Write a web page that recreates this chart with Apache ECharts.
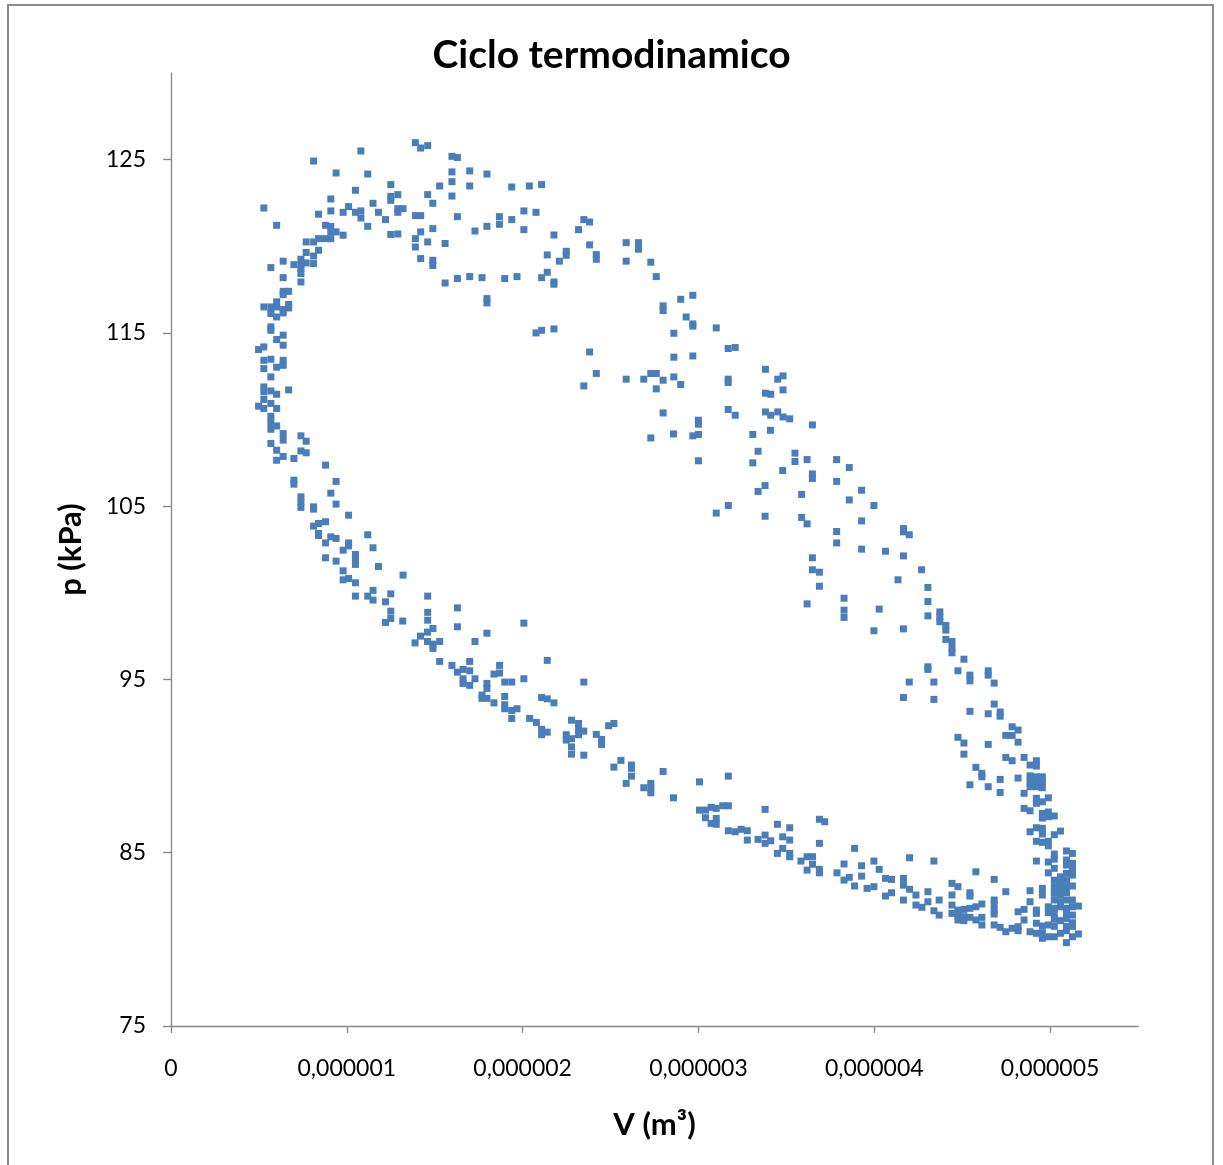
<!DOCTYPE html>
<html>
<head>
<meta charset="utf-8">
<script src="https://cdn.jsdelivr.net/npm/echarts@6/dist/echarts.min.js"></script>
<style>
html,body{margin:0;padding:0;background:#fff;}
#chart{width:1223px;height:1165px;}
</style>
</head>
<body>
<div id="chart"></div>
<script>
// Axis tick values
const xTicks = [0, 1e-6, 2e-6, 3e-6, 4e-6, 5e-6];
const yTicks = [75, 85, 95, 105, 115, 125];

// Measured points [V (m³), p (kPa)], grouped by region of the cycle
const topArc = [
[1.390e-6,125.98],[1.420e-6,125.67],[1.460e-6,125.81],[1.080e-6,125.50],[0.811e-6,124.92],[1.598e-6,125.19],[1.629e-6,125.12],[0.939e-6,124.23],[1.119e-6,124.17],[1.598e-6,124.29],
[1.699e-6,124.35],[1.797e-6,124.17],[1.250e-6,123.56],[1.528e-6,123.48],[1.598e-6,123.73],[1.699e-6,123.48],[1.938e-6,123.42],[2.038e-6,123.48],[1.049e-6,123.23],[1.250e-6,122.88],
[1.290e-6,122.98],[1.460e-6,122.98],[1.598e-6,122.90],[0.909e-6,122.73],[1.250e-6,122.65],[1.149e-6,122.48],[1.489e-6,122.48],[0.528e-6,122.21],[1.010e-6,122.29],[0.909e-6,122.04],
[0.979e-6,121.96],[1.049e-6,121.96],[1.080e-6,122.04],[1.180e-6,121.96],[1.290e-6,122.17],[1.320e-6,122.17],[1.290e-6,121.96],[0.839e-6,121.85],[1.390e-6,121.77],[1.420e-6,121.77],
[1.629e-6,121.71],[2.007e-6,122.04],[2.076e-6,121.96],[1.080e-6,121.63],[1.220e-6,121.54],[1.868e-6,121.71],[1.938e-6,121.54],[1.868e-6,121.27],[0.601e-6,121.21],[0.879e-6,121.21],
[0.909e-6,121.14],[1.119e-6,121.15],[1.797e-6,121.15],[1.489e-6,121.02],[1.729e-6,120.88],[2.007e-6,120.96],[0.939e-6,120.83],[0.909e-6,120.83],[0.979e-6,120.64],[1.250e-6,120.68],
[1.290e-6,120.71],[1.420e-6,120.83],[0.839e-6,120.44],[0.879e-6,120.44],[0.909e-6,120.44],[0.769e-6,120.25],[0.811e-6,120.25],[1.390e-6,120.44],[1.460e-6,120.25],[1.559e-6,120.16],
[1.390e-6,119.96],[0.839e-6,119.77],[0.769e-6,119.64],[0.811e-6,119.44],[1.420e-6,119.29],[1.489e-6,119.19],[1.489e-6,118.89],[0.638e-6,119.14],[0.699e-6,118.94],[0.739e-6,119.25],
[0.739e-6,118.94],[0.769e-6,119.04],[0.811e-6,119.00],[0.568e-6,118.77],[0.739e-6,118.71],[0.739e-6,118.43],[0.638e-6,118.19],[1.559e-6,117.88],[1.629e-6,118.14],[1.699e-6,118.25],
[1.769e-6,118.19],[1.898e-6,118.14],[1.968e-6,118.25],[0.739e-6,117.94],[0.638e-6,117.40],[0.669e-6,117.40],[0.638e-6,117.21],[1.797e-6,116.98],[1.797e-6,116.73],[0.528e-6,116.50],
[0.568e-6,116.50],[0.601e-6,116.79],[0.601e-6,116.50],[0.638e-6,116.35],[0.669e-6,116.64],[0.669e-6,116.44],[0.568e-6,116.12],[0.601e-6,115.92],[0.638e-6,116.15],[0.568e-6,115.35],
[0.568e-6,115.15],[2.076e-6,115.00],[0.638e-6,114.87],[0.601e-6,114.62],[0.638e-6,114.29],[0.498e-6,114.04],[0.528e-6,114.19],[0.528e-6,113.42],[0.568e-6,113.48],[0.638e-6,113.42],
[0.638e-6,113.13],[0.528e-6,112.94],[0.601e-6,113.02],[0.568e-6,112.46],[0.528e-6,111.88],[0.528e-6,111.60],[0.568e-6,111.65],[0.601e-6,111.46],[0.669e-6,111.71],[0.528e-6,111.16],
[0.498e-6,110.77],[0.528e-6,110.64],[0.568e-6,110.93],[0.601e-6,110.64],[0.568e-6,110.19]
];

const expansionUpper = [
[2.108e-6,123.56],[2.348e-6,121.54],[2.381e-6,121.40],[2.318e-6,120.96],[2.178e-6,120.65],[2.381e-6,120.08],[2.589e-6,120.21],[2.659e-6,120.21],[2.659e-6,119.83],[2.140e-6,119.50],
[2.248e-6,119.71],[2.248e-6,119.48],[2.209e-6,119.14],[2.419e-6,119.52],[2.419e-6,119.25],[2.589e-6,119.14],[2.729e-6,119.08],[2.108e-6,118.19],[2.140e-6,118.50],[2.178e-6,117.94],
[2.178e-6,117.81],[2.760e-6,118.25],[2.899e-6,116.94],[2.968e-6,117.17],[2.799e-6,116.56],[2.799e-6,116.29],[2.930e-6,115.92],[2.968e-6,115.52],[2.968e-6,115.39],[3.101e-6,115.29],
[2.108e-6,115.15],[2.178e-6,115.23],[2.860e-6,114.98],[3.169e-6,114.10],[3.209e-6,114.16],[2.381e-6,113.90],[2.860e-6,113.60],[2.968e-6,113.67],[3.381e-6,112.90],[2.419e-6,112.66],
[2.729e-6,112.66],[2.760e-6,112.66],[2.589e-6,112.33],[2.689e-6,112.33],[2.799e-6,112.27],[2.860e-6,112.46],[2.899e-6,112.02],[3.169e-6,112.33],[3.169e-6,112.14],[3.451e-6,112.33],
[3.481e-6,112.52],[2.348e-6,111.94],[2.760e-6,111.77],[3.381e-6,111.52],[3.411e-6,111.46],[3.481e-6,111.71],[2.799e-6,110.38],[3.169e-6,110.58],[3.209e-6,110.25],[3.381e-6,110.44],
[3.411e-6,110.25],[3.451e-6,110.44],[3.481e-6,110.15],[3.519e-6,110.04],[3.000e-6,109.96],[3.000e-6,109.73],[3.648e-6,109.69],[2.858e-6,109.17],[2.968e-6,109.06],[3.000e-6,109.14],
[2.729e-6,108.94],[3.309e-6,109.14],[3.409e-6,109.38],[3.339e-6,108.17],[3.549e-6,108.06],[3.309e-6,107.50],[3.549e-6,107.58],[3.618e-6,107.69],[3.786e-6,107.69],[3.000e-6,107.62],
[3.479e-6,107.06],[3.648e-6,106.86],[3.648e-6,106.60],[3.786e-6,106.43],[3.379e-6,106.19],[3.339e-6,105.85],[3.587e-6,105.68],[3.170e-6,105.04],[3.101e-6,104.60],[3.379e-6,104.42],
[3.587e-6,104.35],[3.618e-6,103.98],[3.786e-6,103.54],[3.786e-6,102.88],[3.648e-6,102.02],[3.648e-6,101.33],[3.688e-6,101.19],[3.688e-6,100.38],[3.618e-6,99.36],[2.007e-6,98.25]
];

const expansionLower = [
[3.858e-6,107.23],[3.928e-6,105.92],[3.858e-6,105.36],[3.998e-6,105.04],[3.928e-6,104.15],[4.166e-6,103.71],[4.166e-6,103.52],[4.199e-6,103.35],[3.928e-6,102.52],[4.064e-6,102.40],
[4.166e-6,102.13],[4.269e-6,101.33],[4.135e-6,100.75],[3.828e-6,99.69],[4.305e-6,100.31],[3.828e-6,99.00],[3.828e-6,98.58],[4.028e-6,99.06],[4.305e-6,99.50],[4.305e-6,98.67],
[4.373e-6,98.90],[4.373e-6,98.61],[4.373e-6,98.33],[3.998e-6,97.81],[4.166e-6,97.92],[4.407e-6,98.12],[4.407e-6,97.85],[4.407e-6,97.31],[4.442e-6,97.19],[4.442e-6,96.79],
[4.442e-6,96.54],[4.510e-6,96.17],[4.305e-6,95.73],[4.305e-6,95.58],[4.476e-6,95.50],[4.544e-6,95.25],[4.544e-6,94.92],[4.648e-6,95.50],[4.648e-6,95.25],[4.682e-6,94.79],
[4.199e-6,94.85],[4.339e-6,94.85],[4.166e-6,93.96],[4.339e-6,93.85]
];

const bottomRight = [
[4.682e-6,93.58],[4.544e-6,93.16],[4.648e-6,93.02],[4.716e-6,93.12],[4.716e-6,92.88],[4.784e-6,92.27],[4.818e-6,92.08],[4.748e-6,91.77],[4.784e-6,91.77],[4.818e-6,91.38],
[4.476e-6,91.66],[4.510e-6,91.33],[4.648e-6,91.25],[4.510e-6,90.69],[4.748e-6,90.50],[4.784e-6,90.31],[4.852e-6,90.50],[4.886e-6,90.06],[4.922e-6,90.31],[4.922e-6,90.00],
[4.578e-6,89.93],[4.612e-6,89.58],[4.612e-6,89.38],[4.716e-6,89.23],[4.818e-6,89.31],[4.886e-6,89.44],[4.922e-6,89.38],[4.956e-6,89.38],[4.886e-6,89.09],[4.922e-6,89.04],
[4.956e-6,89.09],[4.886e-6,88.81],[4.922e-6,88.81],[4.956e-6,88.75],[4.544e-6,88.92],[4.648e-6,88.81],[4.716e-6,88.48],[4.852e-6,88.43],[4.922e-6,88.14],[4.956e-6,87.94],
[4.990e-6,88.17],[4.922e-6,87.85],[4.852e-6,87.56],[4.886e-6,87.42],[4.956e-6,87.27],[4.990e-6,87.35],[5.024e-6,87.12],[4.956e-6,87.00],[4.990e-6,87.08],[4.886e-6,86.21],
[4.922e-6,86.44],[4.956e-6,86.41],[4.956e-6,86.08],[5.024e-6,86.04],[5.059e-6,86.25],[4.922e-6,85.66],[4.956e-6,85.60],[4.990e-6,85.66],[4.990e-6,85.40],[5.024e-6,84.92],
[5.024e-6,84.63],[5.093e-6,85.10],[5.127e-6,84.96],[4.922e-6,84.52],[4.990e-6,84.46],[5.024e-6,84.10],[4.990e-6,83.84],[5.093e-6,84.58],[5.093e-6,84.29],[5.127e-6,84.39],
[5.127e-6,84.04],[5.093e-6,83.81],[5.127e-6,83.71],[5.059e-6,83.61],[5.024e-6,83.42],[5.059e-6,83.33],[5.093e-6,83.42],[5.024e-6,83.04],[5.059e-6,82.94],[5.093e-6,83.04],
[5.127e-6,83.08],[5.024e-6,82.66],[5.059e-6,82.56],[5.093e-6,82.69],[5.024e-6,82.27],[5.059e-6,82.17],[5.093e-6,82.27],[5.127e-6,82.27],[4.990e-6,81.88],[5.024e-6,81.79],
[5.059e-6,81.88],[5.093e-6,81.79],[5.127e-6,81.88],[5.161e-6,81.92],[5.024e-6,81.50],[5.093e-6,81.50],[5.127e-6,81.40],[4.886e-6,82.81],[4.956e-6,82.94],[4.886e-6,82.17],
[4.956e-6,82.56],[4.990e-6,81.54],[4.922e-6,81.69],[4.922e-6,81.50],[4.818e-6,81.59],[4.852e-6,81.73],[4.852e-6,81.12],[4.922e-6,80.93],[4.956e-6,80.77],[4.990e-6,80.83],
[5.024e-6,81.16],[5.059e-6,81.08],[5.093e-6,81.21],[5.127e-6,80.96],[5.024e-6,80.75],[5.093e-6,80.75],[5.127e-6,80.75],[4.956e-6,80.38],[4.990e-6,80.15],[4.956e-6,80.06],
[5.024e-6,80.15],[5.059e-6,80.35],[5.093e-6,80.50],[5.127e-6,80.15],[5.161e-6,80.31],[5.093e-6,79.81],[4.886e-6,80.44],[4.922e-6,80.35],[4.748e-6,82.75],[4.682e-6,83.46],
[4.578e-6,83.90],[4.442e-6,83.23],[4.476e-6,83.04],[4.544e-6,82.69],[4.544e-6,82.50],[4.442e-6,82.56],[4.682e-6,82.27],[4.682e-6,82.04],[4.682e-6,81.69],[4.682e-6,81.46],
[4.612e-6,82.04],[4.578e-6,81.88],[4.544e-6,81.79],[4.510e-6,81.73],[4.476e-6,81.69],[4.442e-6,81.98],[4.442e-6,81.50],[4.476e-6,81.40],[4.510e-6,81.31],[4.544e-6,81.27],
[4.578e-6,81.12],[4.612e-6,81.27],[4.612e-6,80.83],[4.476e-6,81.12],[4.510e-6,81.08],[4.682e-6,80.83],[4.716e-6,80.69],[4.748e-6,80.44],[4.784e-6,80.64],[4.818e-6,80.73],
[4.818e-6,80.50],[4.369e-6,82.27],[4.369e-6,81.40],[4.339e-6,81.65],[4.305e-6,82.17],[4.305e-6,82.75],[4.271e-6,81.85],[4.237e-6,81.98],[4.237e-6,82.56],[4.166e-6,82.27],
[4.201e-6,82.89],[4.166e-6,83.13],[4.166e-6,83.52],[4.201e-6,84.71],[4.339e-6,84.52],[4.098e-6,83.46],[4.064e-6,83.52],[4.098e-6,82.69],[4.064e-6,82.50],[4.028e-6,84.04],
[3.998e-6,84.52],[3.928e-6,84.25],[3.928e-6,83.65],[3.888e-6,83.08],[3.959e-6,82.94],[3.998e-6,83.04],[3.828e-6,84.35],[3.788e-6,83.84],[3.828e-6,83.42],[3.858e-6,83.58],
[3.888e-6,85.25],[3.688e-6,86.93],[3.718e-6,86.79],[3.688e-6,85.54],[3.618e-6,84.77],[3.649e-6,84.77],[3.583e-6,84.52],[3.649e-6,84.33],[3.618e-6,84.00],[3.688e-6,84.04],
[3.688e-6,83.84],[3.449e-6,86.64],[3.519e-6,86.44],[3.479e-6,85.92],[3.519e-6,85.73],[3.379e-6,86.02],[3.379e-6,85.54],[3.411e-6,85.69],[3.339e-6,85.77],[3.278e-6,85.73],
[3.449e-6,84.96],[3.479e-6,85.25],[3.519e-6,84.96],[3.519e-6,84.77],[3.379e-6,87.50],[3.170e-6,86.27],[3.209e-6,86.21],[3.243e-6,86.35],[3.278e-6,86.27],[3.170e-6,89.42],
[3.006e-6,89.09],[3.006e-6,87.46],[3.040e-6,87.46],[3.072e-6,87.62],[3.101e-6,87.56],[3.138e-6,87.71],[3.170e-6,87.71],[3.040e-6,87.02],[3.072e-6,86.69],[3.101e-6,86.98],
[3.101e-6,86.64]
];

const compressionMid = [
[1.220e-6,99.48],[1.250e-6,98.94],[1.250e-6,98.52],[1.220e-6,98.29],[1.318e-6,98.37],[1.460e-6,98.87],[1.460e-6,98.42],[1.629e-6,99.13],[1.629e-6,98.04],[1.490e-6,97.94],
[1.459e-6,97.73],[1.419e-6,97.50],[1.388e-6,97.11],[1.459e-6,97.19],[1.490e-6,97.04],[1.490e-6,96.79],[1.528e-6,97.19],[1.729e-6,97.19],[1.797e-6,97.67],[1.528e-6,96.04],
[1.598e-6,95.81],[1.629e-6,95.42],[1.661e-6,95.58],[1.699e-6,96.04],[1.699e-6,95.50],[1.661e-6,95.04],[1.661e-6,94.77],[1.699e-6,94.66],[1.729e-6,95.04],[1.837e-6,95.31],
[1.869e-6,95.81],[1.869e-6,95.37],[1.797e-6,94.77],[1.797e-6,94.48],[1.769e-6,94.10],[1.769e-6,93.91],[1.797e-6,93.91],[1.837e-6,93.65],[1.898e-6,94.85],[1.938e-6,94.85],
[2.007e-6,95.04],[2.140e-6,96.10],[2.348e-6,94.85],[1.898e-6,94.02],[1.898e-6,93.54],[1.898e-6,93.31],[1.938e-6,93.21],[1.968e-6,93.31],[1.938e-6,92.75],[2.108e-6,93.96],
[2.140e-6,93.88],[2.178e-6,93.65],[2.040e-6,92.75],[2.078e-6,92.52],[2.108e-6,92.12],[2.108e-6,91.81],[2.140e-6,91.96],[2.278e-6,92.65],[2.318e-6,92.46],[2.318e-6,92.12],
[2.318e-6,91.81],[2.348e-6,92.02],[2.248e-6,91.81],[2.248e-6,91.50],[2.278e-6,91.58],[2.278e-6,91.11],[2.278e-6,90.69],[2.348e-6,90.63],[2.419e-6,91.83],[2.449e-6,91.54],
[2.449e-6,91.25],[2.489e-6,92.33],[2.519e-6,92.46],[2.559e-6,90.33],[2.519e-6,89.94],[2.619e-6,90.06],[2.619e-6,89.87],[2.619e-6,89.42],[2.589e-6,89.00],[2.799e-6,89.69],
[2.689e-6,88.75],[2.729e-6,89.00],[2.729e-6,88.75],[2.729e-6,88.46],[2.858e-6,88.17]
];

const compressionUpper = [
[0.568e-6,109.83],[0.568e-6,109.44],[0.601e-6,109.63],[0.638e-6,109.19],[0.638e-6,108.81],[0.739e-6,109.06],[0.769e-6,108.75],[0.568e-6,108.62],[0.601e-6,108.23],[0.638e-6,107.87],
[0.601e-6,107.65],[0.699e-6,107.75],[0.739e-6,108.19],[0.769e-6,108.08],[0.879e-6,107.37],[0.699e-6,106.50],[0.699e-6,106.27],[0.939e-6,106.43],[0.909e-6,105.75],[0.939e-6,105.12],
[0.739e-6,105.54],[0.739e-6,105.25],[0.739e-6,104.93],[0.811e-6,104.96],[0.811e-6,104.83],[1.010e-6,104.48],[0.811e-6,103.85],[0.839e-6,104.00],[0.879e-6,104.10],[0.839e-6,103.43],
[0.839e-6,103.31],[0.909e-6,103.23],[0.939e-6,103.14],[0.879e-6,102.88],[0.979e-6,102.46],[1.010e-6,102.88],[1.010e-6,102.71],[1.119e-6,103.35],[1.149e-6,102.60],[1.049e-6,102.21],
[1.049e-6,101.88],[1.049e-6,101.64],[0.879e-6,102.02],[0.939e-6,101.83],[1.180e-6,101.52],[0.979e-6,101.27],[0.979e-6,100.75],[1.010e-6,100.83],[1.049e-6,100.58],[1.320e-6,101.02],
[1.049e-6,99.81],[1.119e-6,99.81],[1.149e-6,100.14],[1.149e-6,99.58],[1.250e-6,99.94],[1.460e-6,99.81]
];

const allPoints = [].concat(topArc, expansionUpper, expansionLower, bottomRight, compressionMid, compressionUpper);

const axisGrey = '#868686';
const FONT = 'Lato';

const chart = echarts.init(document.getElementById('chart'), null, {renderer: 'canvas'});
chart.setOption({
  animation: false,
  backgroundColor: '#ffffff',
  title: {
    text: 'Ciclo termodinamico',
    left: 'center',
    top: 31,
    textStyle: {fontFamily: FONT, fontWeight: 'bold', fontSize: 39, color: '#000000'}
  },
  graphic: [{
    type: 'rect',
    silent: true,
    z: -10,
    shape: {x: 8, y: 5, width: 1205, height: 1180},
    style: {fill: null, stroke: '#8c8c8c', lineWidth: 2}
  }],
  grid: {left: 171, right: 85, top: 73, bottom: 139, containLabel: false, outerBoundsMode: 'none'},
  xAxis: {
    type: 'value',
    min: 0,
    max: 5.5e-6,
    interval: 1e-6,
    name: 'V (m³)',
    nameLocation: 'middle',
    nameGap: 83,
    nameTextStyle: {fontFamily: FONT, fontWeight: 'bold', fontSize: 31, color: '#000000'},
    splitLine: {show: false},
    axisLine: {show: true, onZero: false, lineStyle: {color: axisGrey, width: 1.3}},
    axisTick: {show: true, length: 7, customValues: xTicks, lineStyle: {color: axisGrey, width: 1.3}},
    axisLabel: {
      customValues: xTicks,
      margin: 31,
      fontFamily: FONT,
      fontSize: 23,
      color: '#000000',
      formatter: function (v) { return v === 0 ? '0' : v.toFixed(6).replace('.', ','); }
    }
  },
  yAxis: {
    type: 'value',
    min: 75,
    max: 130,
    interval: 10,
    name: 'p (kPa)',
    nameLocation: 'middle',
    nameRotate: 90,
    nameGap: 85,
    nameTextStyle: {fontFamily: FONT, fontWeight: 'bold', fontSize: 31, color: '#000000'},
    splitLine: {show: false},
    axisLine: {show: true, onZero: false, lineStyle: {color: axisGrey, width: 1.3}},
    axisTick: {show: true, length: 8, customValues: yTicks, lineStyle: {color: axisGrey, width: 1.3}},
    axisLabel: {
      customValues: yTicks,
      margin: 25,
      fontFamily: FONT,
      fontSize: 23,
      color: '#000000'
    }
  },
  series: [{
    type: 'scatter',
    symbol: 'rect',
    symbolSize: 7,
    itemStyle: {color: '#4a7ebb', opacity: 1},
    data: allPoints
  }]
});
</script>
</body>
</html>
